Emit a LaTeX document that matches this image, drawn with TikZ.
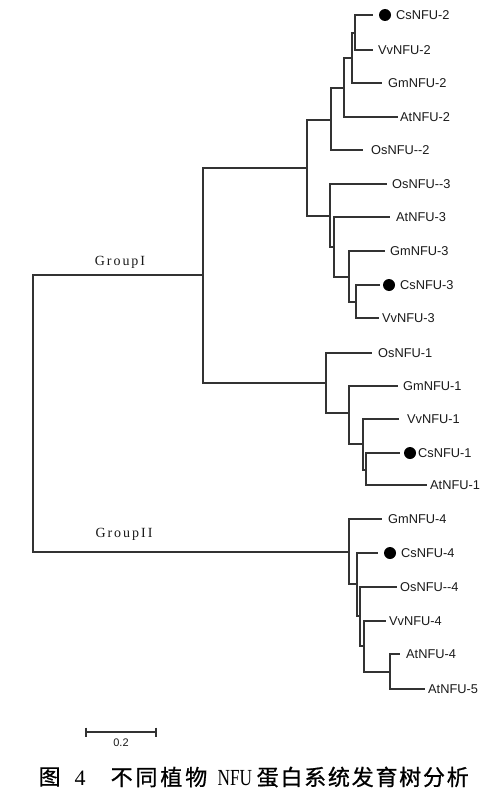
\documentclass[tikz,border=0pt]{standalone}
\usepackage{fontspec}
\usepackage{graphicx}
\setmainfont{Liberation Serif}
\setsansfont{Liberation Sans}
\newfontfamily\leaffont{Liberation Sans}
\newfontfamily\grpfont[LetterSpace=14]{Liberation Serif}
\newfontfamily\capnum{Liberation Serif}
\newfontfamily\cjkA[LetterSpace=13,FakeBold=0.8]{Noto Sans CJK SC}
\newfontfamily\cjkB[LetterSpace=8,FakeBold=0.8]{Noto Sans CJK SC}
\definecolor{linegray}{HTML}{333333}
\definecolor{textgray}{HTML}{1A1A1A}
\tikzset{
  branch/.style={draw=linegray, line width=1.2pt},
  leaf/.style={anchor=west, inner sep=0pt, text=textgray, font=\leaffont\fontsize{12.8}{14}\selectfont},
  dotmark/.style={circle, fill=black, minimum size=12pt, inner sep=0pt},
  grp/.style={inner sep=0pt, text=textgray, font=\grpfont\fontsize{14}{16}\selectfont},
  scalelabel/.style={inner sep=0pt, text=textgray, font=\leaffont\fontsize{11}{12}\selectfont},
  captxt/.style={anchor=west, inner sep=0pt, text=black},
}
\begin{document}
\begin{tikzpicture}[x=1pt, y=-1pt]
\fill[white] (0,0) rectangle (492,800);
\useasboundingbox (0,0) rectangle (492,800);

% internal nodes
\coordinate (root) at (33,414);
\coordinate (gI) at (203,275);
\coordinate (gII) at (349,552);
\coordinate (cA) at (307,168);
\coordinate (c2) at (331,120);
\coordinate (n2a) at (344,88);
\coordinate (n2b) at (352,58);
\coordinate (n2c) at (355,33);
\coordinate (c3) at (330,216);
\coordinate (n3a) at (334,247);
\coordinate (n3b) at (349,277);
\coordinate (n3c) at (356,302);
\coordinate (c1) at (326,383);
\coordinate (n1a) at (349,413);
\coordinate (n1b) at (363,444);
\coordinate (n1c) at (366,470);
\coordinate (n4a) at (357,584);
\coordinate (n4b) at (360,616);
\coordinate (n4c) at (364,646);
\coordinate (n4d) at (390,672);

% leaf ends
\coordinate (e-cs2) at (373,15);
\coordinate (e-vv2) at (373,50);
\coordinate (e-gm2) at (382,83);
\coordinate (e-at2) at (398,117);
\coordinate (e-os2) at (363,150);
\coordinate (e-os3) at (387,184);
\coordinate (e-at3) at (390,217);
\coordinate (e-gm3) at (385,251);
\coordinate (e-cs3) at (380,285);
\coordinate (e-vv3) at (379,318);
\coordinate (e-os1) at (372,353);
\coordinate (e-gm1) at (398,386);
\coordinate (e-vv1) at (399,419);
\coordinate (e-cs1) at (400,453);
\coordinate (e-at1) at (427,485);
\coordinate (e-gm4) at (382,519);
\coordinate (e-cs4) at (378,553);
\coordinate (e-os4) at (397,587);
\coordinate (e-vv4) at (386,621);
\coordinate (e-at4) at (400,654);
\coordinate (e-at5) at (425,689);

% branches
\draw[branch] (root) |- (gI);
\draw[branch] (root) |- (gII);
\draw[branch] (gI) |- (cA);
\draw[branch] (gI) |- (c1);
\draw[branch] (cA) |- (c2);
\draw[branch] (cA) |- (c3);
\draw[branch] (c2) |- (n2a);
\draw[branch] (c2) |- (e-os2);
\draw[branch] (n2a) |- (n2b);
\draw[branch] (n2a) |- (e-at2);
\draw[branch] (n2b) |- (n2c);
\draw[branch] (n2b) |- (e-gm2);
\draw[branch] (n2c) |- (e-cs2);
\draw[branch] (n2c) |- (e-vv2);
\draw[branch] (c3) |- (e-os3);
\draw[branch] (c3) |- (n3a);
\draw[branch] (n3a) |- (e-at3);
\draw[branch] (n3a) |- (n3b);
\draw[branch] (n3b) |- (e-gm3);
\draw[branch] (n3b) |- (n3c);
\draw[branch] (n3c) |- (e-cs3);
\draw[branch] (n3c) |- (e-vv3);
\draw[branch] (c1) |- (e-os1);
\draw[branch] (c1) |- (n1a);
\draw[branch] (n1a) |- (e-gm1);
\draw[branch] (n1a) |- (n1b);
\draw[branch] (n1b) |- (e-vv1);
\draw[branch] (n1b) |- (n1c);
\draw[branch] (n1c) |- (e-cs1);
\draw[branch] (n1c) |- (e-at1);
\draw[branch] (gII) |- (e-gm4);
\draw[branch] (gII) |- (n4a);
\draw[branch] (n4a) |- (e-cs4);
\draw[branch] (n4a) |- (n4b);
\draw[branch] (n4b) |- (e-os4);
\draw[branch] (n4b) |- (n4c);
\draw[branch] (n4c) |- (e-vv4);
\draw[branch] (n4c) |- (n4d);
\draw[branch] (n4d) |- (e-at4);
\draw[branch] (n4d) |- (e-at5);

% dots
\node[dotmark] (d-cs2) at (385,15) {};
\node[dotmark] (d-cs3) at (389,285) {};
\node[dotmark] (d-cs1) at (410,453) {};
\node[dotmark] (d-cs4) at (390,553) {};

% leaf labels
\node[leaf] (l-cs2) at (396,15) {CsNFU-2};
\node[leaf] (l-vv2) at (378,50) {VvNFU-2};
\node[leaf] (l-gm2) at (388,83) {GmNFU-2};
\node[leaf] (l-at2) at (400,117) {AtNFU-2};
\node[leaf] (l-os2) at (371,150) {OsNFU--2};
\node[leaf] (l-os3) at (392,184) {OsNFU--3};
\node[leaf] (l-at3) at (396,217) {AtNFU-3};
\node[leaf] (l-gm3) at (390,251) {GmNFU-3};
\node[leaf] (l-cs3) at (400,285) {CsNFU-3};
\node[leaf] (l-vv3) at (382,318) {VvNFU-3};
\node[leaf] (l-os1) at (378,353) {OsNFU-1};
\node[leaf] (l-gm1) at (403,386) {GmNFU-1};
\node[leaf] (l-vv1) at (407,419) {VvNFU-1};
\node[leaf] (l-cs1) at (418,453) {CsNFU-1};
\node[leaf] (l-at1) at (430,485) {AtNFU-1};
\node[leaf] (l-gm4) at (388,519) {GmNFU-4};
\node[leaf] (l-cs4) at (401,553) {CsNFU-4};
\node[leaf] (l-os4) at (400,587) {OsNFU--4};
\node[leaf] (l-vv4) at (389,621) {VvNFU-4};
\node[leaf] (l-at4) at (406,654) {AtNFU-4};
\node[leaf] (l-at5) at (428,689) {AtNFU-5};

% group labels
\node[grp] (g1) at (120,262) {GroupI};
\node[grp] (g2) at (124,534) {GroupII};

% scale bar
\coordinate (sb1) at (86,732);
\coordinate (sb2) at (156,732);
\coordinate (sb1t) at (86,727.5);
\coordinate (sb1b) at (86,736.5);
\coordinate (sb2t) at (156,727.5);
\coordinate (sb2b) at (156,736.5);
\draw[branch] (sb1) -- (sb2);
\draw[branch] (sb1t) -- (sb1b);
\draw[branch] (sb2t) -- (sb2b);
\node[scalelabel] (sbl) at (121,743) {0.2};

% caption
\node[captxt, font=\cjkB\fontsize{22}{24}\selectfont] (cap1) at (38.5,777) {图};
\node[inner sep=0pt, font=\capnum\fontsize{22}{24}\selectfont] (cap2) at (80,778) {4};
\node[captxt, font=\cjkA\fontsize{22}{24}\selectfont] (cap3) at (110.5,777) {不同植物};
\node[captxt, font=\capnum\fontsize{23}{24}\selectfont] (cap4) at (217.5,778) {\scalebox{0.75}[1]{NFU}};
\node[captxt, font=\cjkB\fontsize{22}{24}\selectfont] (cap5) at (256.5,777) {蛋白系统发育树分析};
\end{tikzpicture}
\end{document}
